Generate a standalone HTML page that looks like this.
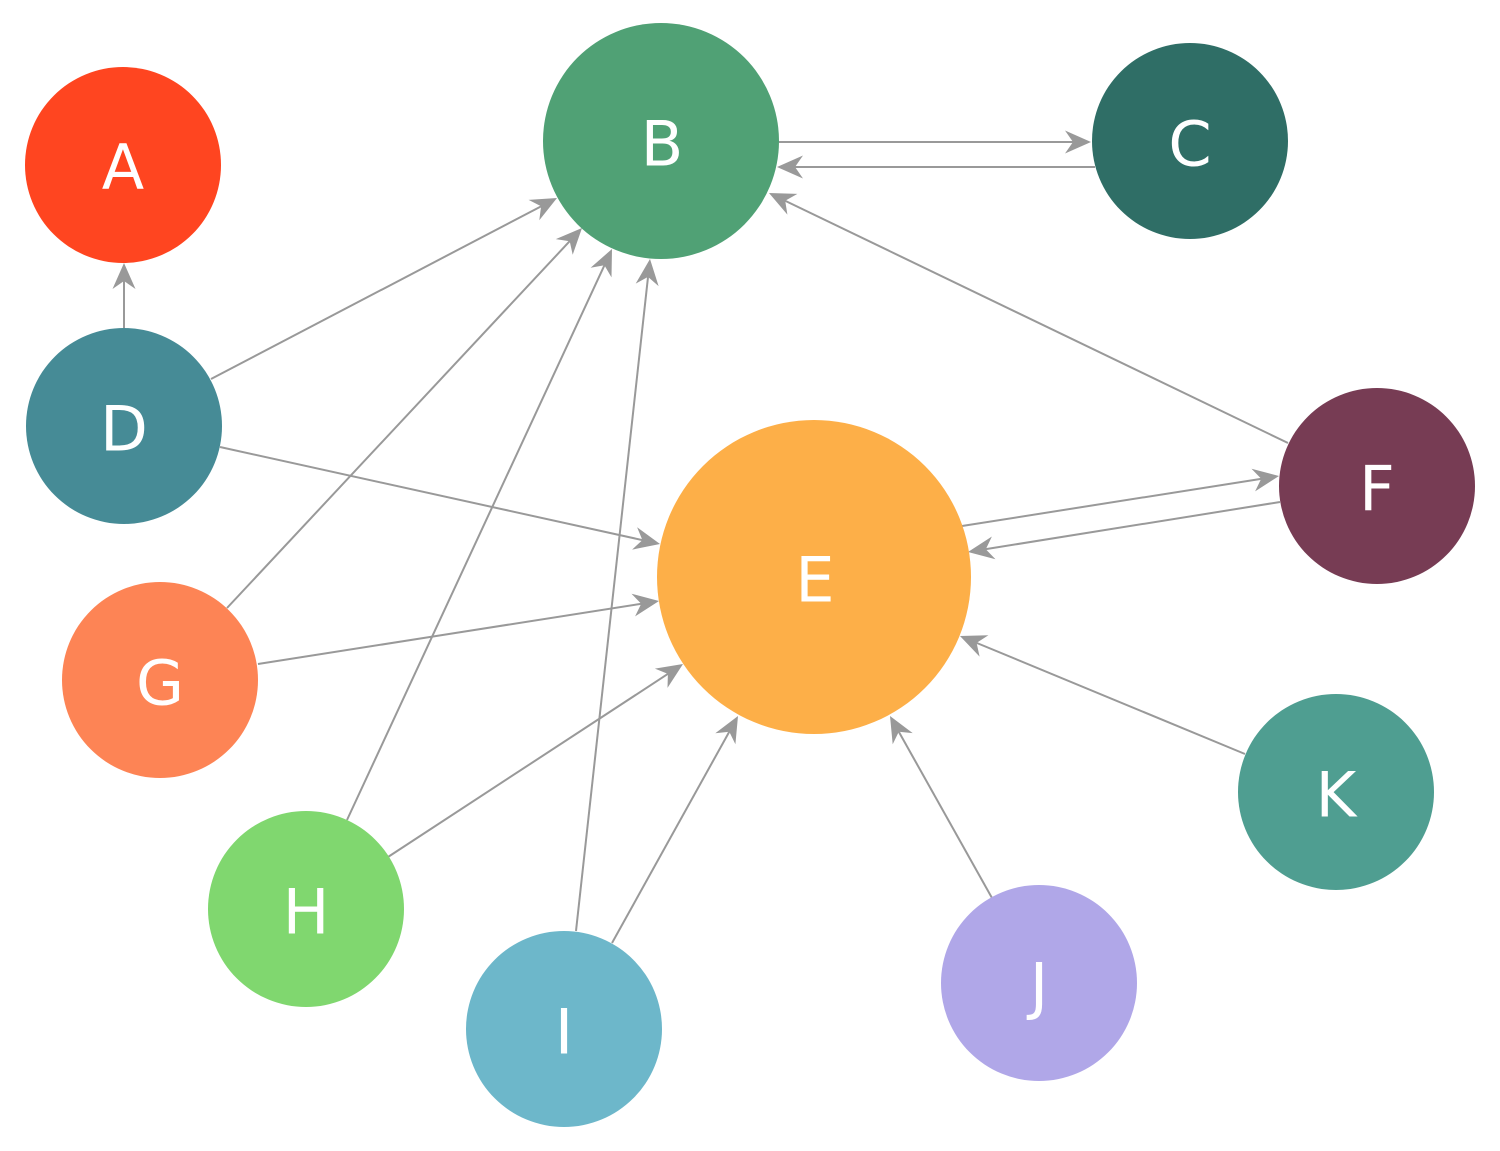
<!DOCTYPE html>
<html><head><style>html,body{margin:0;padding:0;background:#fff}svg{display:block}</style></head>
<body>
<svg id="s" width="1500" height="1151" viewBox="0 0 1500 1151" xmlns="http://www.w3.org/2000/svg">
<g id="e" stroke="#999" stroke-width="2" fill="none"></g>
<g id="h" fill="#999"></g>
<g>
<circle cx="123" cy="165" r="98" fill="#ff4520"/>
<circle cx="661" cy="141" r="118" fill="#50a175"/>
<circle cx="1190" cy="141" r="98" fill="#2f6e66"/>
<circle cx="124" cy="426" r="98" fill="#468b96"/>
<circle cx="814" cy="577" r="157" fill="#fdaf48"/>
<circle cx="1377" cy="486" r="98" fill="#773c54"/>
<circle cx="160" cy="680" r="98" fill="#fd8455"/>
<circle cx="306" cy="909" r="98" fill="#80d76f"/>
<circle cx="564" cy="1029" r="98" fill="#6db7ca"/>
<circle cx="1039" cy="983" r="98" fill="#b0a7e8"/>
<circle cx="1336" cy="792" r="98" fill="#4f9e91"/>
</g>
<g fill="#fff" font-family="DejaVu Sans, Liberation Sans, sans-serif" font-size="62" text-anchor="middle" dominant-baseline="central">
<text x="123" y="167">A</text>
<text x="662" y="144">B</text>
<text x="1190" y="144">C</text>
<text x="124" y="429">D</text>
<text x="815" y="580">E</text>
<text x="1377" y="489">F</text>
<text x="160" y="683">G</text>
<text x="306" y="912">H</text>
<text x="564" y="1032">I</text>
<text x="1039" y="986">J</text>
<text x="1336" y="795">K</text>
</g>
</svg>
<script>
var E=[[124,328,124,263],[779,142,1091,142],[1095,167,777,167],[1288,443,769,193],[211,379,557,198],[227,608,582,228],[347,820,612,249],[576,931,650,259],[220,447,660,544],[258,664,659,601],[388,857,683,664],[612,943,738,716],[962,526,1279,476],[1280,502,968,552],[1245,754,960,636],[992,898,890,716]];
var ns="http://www.w3.org/2000/svg",ge=document.getElementById('e'),gh=document.getElementById('h');
E.forEach(function(a){
var dx=a[2]-a[0],dy=a[3]-a[1],L=Math.hypot(dx,dy),ux=dx/L,uy=dy/L,px=-uy,py=ux;
var l=document.createElementNS(ns,'line');
l.setAttribute('x1',a[0]);l.setAttribute('y1',a[1]);l.setAttribute('x2',a[2]-ux*15);l.setAttribute('y2',a[3]-uy*15);ge.appendChild(l);
var tx=a[2],ty=a[3],bl=26,w=11.5,n=18;
var pts=[[tx,ty],[tx-ux*bl+px*w,ty-uy*bl+py*w],[tx-ux*n,ty-uy*n],[tx-ux*bl-px*w,ty-uy*bl-py*w]];
var p=document.createElementNS(ns,'polygon');p.setAttribute('points',pts.map(function(q){return q[0].toFixed(1)+','+q[1].toFixed(1)}).join(' '));gh.appendChild(p);
});
</script>
</body></html>
